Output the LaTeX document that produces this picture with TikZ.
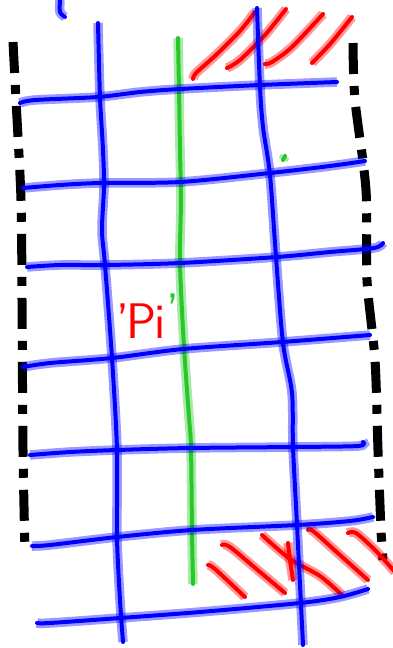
\documentclass[tikz,border=0pt]{standalone}
\definecolor{penblue}{RGB}{0,0,255}
\definecolor{pengreen}{RGB}{40,200,40}
\definecolor{penred}{RGB}{255,0,0}
\begin{document}
\begin{tikzpicture}[x=1pt,y=-1pt,
    pen/.style={line width=4pt,line cap=round,line join=round,draw=#1,
      preaction={draw=#1,line width=9.5pt,opacity=0.4}},
    dashdot/.style={line width=9pt,dash pattern=on 31pt off 12pt on 9pt off 12pt}]
    \useasboundingbox (0,0) rectangle (392,648);
    % edges of the strip
    \draw[dashdot] plot[smooth] coordinates {(13,42) (16,100) (21,200) (22,300) (23,450) (25,552)};
    \draw[dashdot] plot[smooth] coordinates {(353,43) (355,100) (366,190) (367,280) (375,360) (378,450) (381,530) (383,560)};
    % hatched corners
    \draw[pen=penred] plot[smooth] coordinates {(193,79) (196,73) (216,55) (240,31) (255,12)};
    \draw[pen=penred] plot[smooth] coordinates {(227,68) (240,60) (265,35) (286,9)};
    \draw[pen=penred] plot[smooth] coordinates {(265,64) (272,62) (292,47) (323,14)};
    \draw[pen=penred] plot[smooth] coordinates {(312,63) (331,43) (352,17)};
    \draw[pen=penred] plot[smooth] coordinates {(208,565) (215,569) (245,597)};
    \draw[pen=penred] plot[smooth] coordinates {(222,545) (230,547) (260,572) (285,593)};
    \draw[pen=penred] plot[smooth] coordinates {(262,535) (290,559) (320,576) (342,595)};
    \draw[pen=penred] plot[smooth] coordinates {(288,543) (290,560) (293,580)};
    \draw[pen=penred] plot[smooth] coordinates {(308,530) (313,531) (340,555) (368,580)};
    \draw[pen=penred] plot[smooth] coordinates {(348,533) (356,533) (375,550) (395,572)};
    % middle line
    \draw[pen=pengreen] plot[smooth] coordinates {(178,38) (179,90) (180,150) (181,200) (180,263) (184,347) (189,417) (191,448) (192,530) (193,584)};
    \draw[pen=pengreen] (283,160) -- (285,156);
    % grid
    \draw[pen=penblue] plot[smooth] coordinates {(60,0) (60,12) (65,17)};
    \draw[pen=penblue] plot[smooth] coordinates {(98,23) (100,97) (103,150) (104,187) (102,230) (105,265) (112,358) (117,450) (117,537) (120,600) (123,642)};
    \draw[pen=penblue] plot[smooth] coordinates {(257,8) (260,87) (263,127) (270,175) (276,257) (283,343) (292,393) (293,447) (297,525) (303,645)};
    \draw[pen=penblue] plot[smooth] coordinates {(20,103) (35,100) (98,97) (140,92) (180,89) (260,85) (337,82)};
    \draw[pen=penblue] plot[smooth] coordinates {(23,188) (60,185) (100,183) (180,182) (270,173) (330,166) (365,161)};
    \draw[pen=penblue] plot[smooth] coordinates {(27,267) (60,265) (107,265) (180,263) (277,257) (330,252) (374,248) (383,243)};
    \draw[pen=penblue] plot[smooth] coordinates {(23,367) (50,363) (112,358) (183,349) (282,342) (370,335)};
    \draw[pen=penblue] plot[smooth] coordinates {(30,455) (70,452) (117,450) (190,448) (293,447) (358,446) (363,442)};
    \draw[pen=penblue] plot[smooth] coordinates {(32,546) (50,545) (117,537) (192,530) (297,525) (350,521) (373,517)};
    \draw[pen=penblue] plot[smooth] coordinates {(37,623) (50,623) (120,618) (200,612) (300,603) (340,597) (368,589)};
    % label
    \node[text=penred,font=\fontsize{50}{50}\selectfont\sffamily,inner sep=0pt] (pi) at (148,316)
      {'\kern-3pt P\kern-2pt i\raisebox{10pt}{\textcolor{pengreen}{'}}};
\end{tikzpicture}
\end{document}
